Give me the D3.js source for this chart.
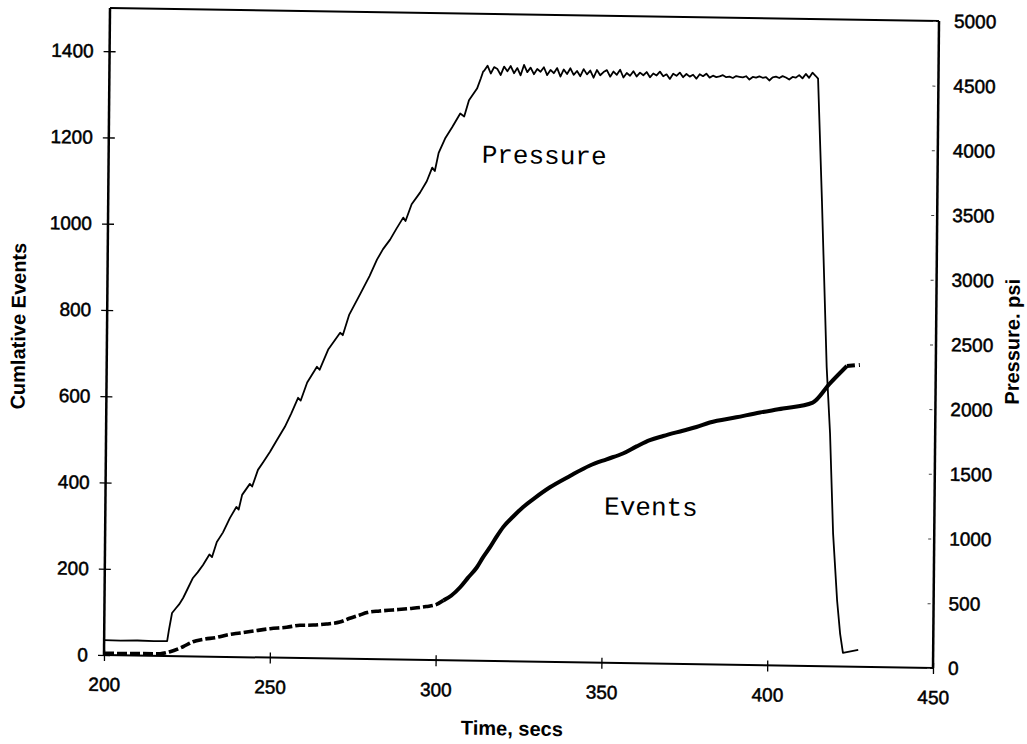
<!DOCTYPE html>
<html>
<head>
<meta charset="utf-8">
<script src="https://cdn.jsdelivr.net/npm/d3@7"></script>
<style>
  html, body { margin: 0; padding: 0; background: #fff; }
  svg { display: block; }
</style>
</head>
<body>
<svg id="chart" width="1027" height="744"></svg>
<script>
// ---------- data ----------
const xTicks = [200, 250, 300, 350, 400, 450];
const leftTicks = [0, 200, 400, 600, 800, 1000, 1200, 1400];
const rightTicks = [0, 500, 1000, 1500, 2000, 2500, 3000, 3500, 4000, 4500, 5000];

const pressureTimes = [
  200, 205, 210, 215, 219.0, 219.5, 220.4, 221.6, 222.5, 223.7, 225, 226.6, 228, 229.6,
  231.5, 232.3, 233.7, 235.5, 237.6, 239.5, 240.2, 241.2, 243.5, 244.2, 245.9, 247.5,
  249.5, 251.5, 253.9, 255.8, 257.8, 258.6, 260.5, 263.4, 264.2, 266.8, 270.3, 271.1,
  273, 276.3, 279, 281.2, 283, 285.1, 287, 289, 289.7, 291.5, 294, 296, 297.6, 298.4,
  299.5, 301.4, 303.5, 305.9, 307.1, 308.5, 310.9, 312, 312.7,
  313, 314, 315, 316, 317, 318, 319, 320, 321, 322, 323, 324, 325, 326, 327, 328, 329, 330,
  331, 332, 333, 334, 335, 336, 337, 338, 339, 340, 341, 342, 343, 344, 345, 346, 347, 348,
  349, 350, 351, 352, 353, 354, 355, 356, 357, 358, 359, 360, 361, 362, 363, 364, 365, 366,
  367, 368, 369, 370, 371, 372, 373, 374, 375, 376, 377, 378, 379, 380, 381, 382, 383, 384,
  385, 386, 387, 388, 389, 390, 391, 392, 393, 394, 395, 396, 397, 398, 399, 400, 401, 402,
  403, 404, 405, 406, 407, 408, 409, 410, 411, 412, 413, 413.7,
  415.2, 417.1, 418.3, 419.5, 420.9, 421.9, 422.8, 427.4
];
const pressureValues = [
  115, 113, 116, 114, 115, 200, 333, 372, 400, 450, 520, 606, 650, 708,
  790, 770, 887, 960, 1075, 1160, 1140, 1254, 1340, 1320, 1449, 1510,
  1590, 1680, 1785, 1890, 2011, 1990, 2130, 2253, 2230, 2390, 2519, 2500,
  2660, 2823, 2960, 3088, 3170, 3244, 3330, 3416, 3390, 3520, 3611, 3700, 3806, 3780,
  3920, 4032, 4120, 4227, 4205, 4330, 4422, 4500, 4555,
  4560, 4600, 4540, 4590, 4575, 4530, 4595, 4560, 4600, 4545, 4585, 4530, 4610, 4555, 4590, 4540, 4580, 4560,
  4595, 4535, 4575, 4550, 4590, 4525, 4580, 4545, 4590, 4540, 4570, 4530, 4585, 4545, 4575, 4520, 4580, 4540,
  4565, 4580, 4530, 4570, 4545, 4585, 4525, 4560, 4540, 4575, 4535, 4565, 4545, 4570, 4530, 4560, 4545, 4575,
  4540, 4555, 4520, 4560, 4545, 4570, 4535, 4560, 4540, 4555, 4525, 4560, 4545, 4565, 4535, 4550, 4540, 4545,
  4555, 4540, 4545, 4535, 4550, 4545, 4540, 4550, 4525, 4545, 4540, 4550, 4540, 4545, 4520, 4545, 4550, 4540,
  4555, 4545, 4530, 4550, 4545, 4565, 4540, 4575, 4545, 4585, 4560, 4540,
  3601, 2312, 1800, 1026, 508, 253, 106, 131
];

const eventTimes = [
  200, 216.9, 219.9, 223.8, 226.8, 230, 234, 237, 241, 245, 250, 255, 259, 263, 267, 271,
  274, 277, 279.2, 283, 287, 292.2, 297, 300, 302.2,
  304.5, 307.2, 309.5, 312.2, 314, 316.1, 318, 320, 323, 325.9, 329.5, 334, 340, 346, 351,
  355.9, 360, 364, 368, 373.9, 378, 382, 390, 397.1, 404, 413, 418, 423.2,
  427.1
];
const eventCounts = [
  4, 5, 10, 22, 34, 40, 45, 51, 56, 61, 67, 71, 76, 77, 80, 85,
  94, 102, 108, 112, 115, 119, 124, 129, 139,
  150, 170, 192, 217, 240, 264, 288, 311, 336, 358, 380, 405, 432, 457, 472,
  486, 503, 518, 528, 541, 550, 561, 574, 586, 596, 611, 655, 697,
  700
];

// ---------- layout ----------
const W = 829, H = 647;
const svg = d3.select('#chart');
svg.append('rect').attr('width', 1027).attr('height', 744).attr('fill', '#fff');

// scanned page is slightly skewed
const g = svg.append('g').attr('transform', 'matrix(1,0.0157,-0.00927,1,110,8)');

const x = d3.scaleLinear().domain([200, 450]).range([0, W]);
const yL = d3.scaleLinear().domain([0, 1500]).range([H, 0]);
const yR = d3.scaleLinear().domain([0, 5000]).range([H, 0]);

const tickFont = '"Liberation Sans", Arial, sans-serif';

// frame
g.append('line').attr('x1', 0).attr('x2', W).attr('y1', 0).attr('y2', 0)
  .attr('stroke', '#000').attr('stroke-width', 2);

// left axis
const axL = g.append('g').call(d3.axisLeft(yL).tickValues(leftTicks).tickSize(6).tickPadding(10).tickFormat(d3.format('d')));
axL.select('.domain').attr('stroke-width', 2.5).attr('d', `M0,${H}V0`);
axL.selectAll('.tick line').attr('x1', -6).attr('x2', 6).attr('stroke-width', 1.3);
axL.selectAll('.tick text').attr('font-family', tickFont).attr('font-size', 19)
  .attr('fill', '#000').attr('stroke', '#000').attr('stroke-width', 0.5).attr('x', -16);

// bottom axis
const axB = g.append('g').attr('transform', `translate(0,${H})`)
  .call(d3.axisBottom(x).tickValues(xTicks).tickSize(5).tickPadding(0).tickFormat(d3.format('d')));
axB.select('.domain').attr('stroke-width', 2).attr('d', `M0,0H${W}`);
axB.selectAll('.tick line').attr('y1', -5).attr('y2', 6).attr('stroke-width', 1.3);
axB.selectAll('.tick text').attr('font-family', tickFont).attr('font-size', 19)
  .attr('fill', '#000').attr('stroke', '#000').attr('stroke-width', 0.5)
  .attr('dy', null).attr('y', 36);

// right axis
const axR = g.append('g').attr('transform', `translate(${W},0)`)
  .call(d3.axisRight(yR).tickValues(rightTicks).tickSize(0).tickPadding(15).tickFormat(d3.format('d')));
axR.select('.domain').attr('stroke-width', 2.5).attr('d', `M0,0V${H}`);
axR.selectAll('.tick line').attr('x1', -6).attr('x2', -3).attr('stroke', '#444').attr('stroke-width', 1);
axR.selectAll('.tick text').attr('font-family', tickFont).attr('font-size', 19)
  .attr('fill', '#000').attr('stroke', '#000').attr('stroke-width', 0.5);

// axis titles
g.append('text').attr('transform', `translate(-87,${H / 2 - 4}) rotate(-90)`)
  .attr('text-anchor', 'middle').attr('dominant-baseline', 'middle')
  .attr('font-family', tickFont).attr('font-weight', 'bold').attr('font-size', 20)
  .text('Cumlative Events');
g.append('text').attr('transform', `translate(${W + 78},${H / 2 - 4}) rotate(-90)`)
  .attr('text-anchor', 'middle').attr('dominant-baseline', 'middle')
  .attr('font-family', tickFont).attr('font-weight', 'bold').attr('font-size', 20)
  .text('Pressure. psi');
g.append('text').attr('x', W / 2 - 6).attr('y', H + 74)
  .attr('text-anchor', 'middle')
  .attr('font-family', tickFont).attr('font-weight', 'bold').attr('font-size', 20)
  .text('Time, secs');

// ---------- series ----------
const pressure = pressureTimes.map((t, i) => [t, pressureValues[i]]);
const events = eventTimes.map((t, i) => [t, eventCounts[i]]);

const lineP = d3.line().x(d => x(d[0])).y(d => yR(d[1]));
const lineE = d3.line().x(d => x(d[0])).y(d => yL(d[1])).curve(d3.curveMonotoneX);

g.append('path').datum(pressure).attr('d', lineP)
  .attr('fill', 'none').attr('stroke', '#000').attr('stroke-width', 1.8)
  .attr('stroke-linejoin', 'round');

const evA = events.filter(d => d[0] <= 302.2);
const evB = events.filter(d => d[0] >= 302.2 && d[0] <= 423.2);
const evC = events.filter(d => d[0] >= 423.2);
g.append('path').datum(evA).attr('d', lineE)
  .attr('fill', 'none').attr('stroke', '#000').attr('stroke-width', 3.6)
  .attr('stroke-dasharray', '10,3');
g.append('path').datum(evB).attr('d', lineE)
  .attr('fill', 'none').attr('stroke', '#000').attr('stroke-width', 4)
  .attr('stroke-linejoin', 'round');
g.append('path').datum(evC).attr('d', lineE)
  .attr('fill', 'none').attr('stroke', '#000').attr('stroke-width', 4)
  .attr('stroke-dasharray', '8,4');

// ---------- annotations ----------
const monoFont = '"Liberation Mono", "Courier New", monospace';
g.append('text').attr('x', x(312.5)).attr('y', yR(3850))
  .attr('font-family', monoFont).attr('font-size', 26).text('Pressure');
g.append('text').attr('x', x(350.4)).attr('y', yL(344))
  .attr('font-family', monoFont).attr('font-size', 26).text('Events');
</script>
</body>
</html>
